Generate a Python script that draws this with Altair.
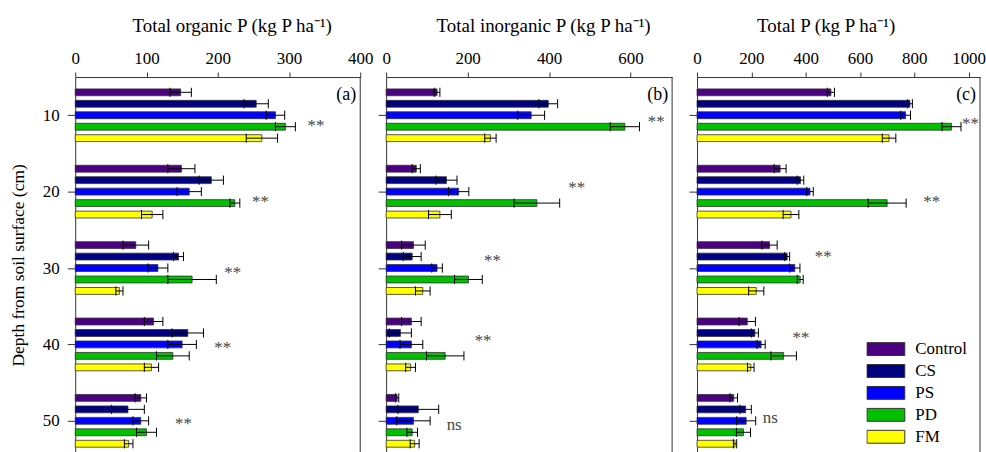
import altair as alt
import pandas as pd

# ---------------- data ----------------
treatments = ["Control", "CS", "PS", "PD", "FM"]
colors = ["#4B0082", "#000080", "#0000FF", "#00C000", "#FFFF00"]
depths = [10, 20, 30, 40, 50]

# rows = depth (10..50), columns = treatments
organic_mean = [
    [148, 254, 281, 295, 262],
    [149, 191, 160, 224, 108],
    [85, 145, 116, 164, 62],
    [110, 158, 150, 137, 107],
    [92, 74, 92, 100, 75],
]
organic_err = [
    [15, 17, 13, 14, 22],
    [19, 17, 17, 7, 15],
    [18, 7, 14, 34, 5],
    [13, 22, 20, 23, 10],
    [8, 23, 11, 14, 6],
]
inorganic_mean = [
    [125, 398, 356, 586, 256],
    [74, 148, 178, 370, 132],
    [67, 64, 125, 202, 90],
    [62, 35, 62, 145, 60],
    [27, 79, 67, 64, 70],
]
inorganic_err = [
    [7, 23, 33, 36, 14],
    [10, 26, 25, 56, 28],
    [29, 22, 13, 34, 18],
    [24, 27, 28, 46, 12],
    [4, 50, 41, 13, 11],
]
total_mean = [
    [493, 784, 768, 937, 707],
    [306, 381, 416, 700, 346],
    [267, 332, 360, 380, 218],
    [185, 213, 236, 319, 198],
    [135, 179, 181, 171, 140],
]
total_err = [
    [13, 9, 18, 35, 25],
    [22, 12, 12, 70, 29],
    [28, 9, 19, 11, 28],
    [30, 13, 15, 47, 12],
    [14, 21, 35, 26, 6],
]

organic_sig = ["**", "**", "**", "**", "**"]
inorganic_sig = ["**", "**", "**", "**", "ns"]
total_sig = ["**", "**", "**", "**", "ns"]
# annotation anchor positions (data units)
organic_sig_x = [338, 260, 221, 207, 152]
organic_sig_y = [11.4, 21.3, 30.6, 40.5, 50.4]
inorganic_sig_x = [663, 468, 261, 238, 167]
inorganic_sig_y = [10.9, 19.5, 29.1, 39.6, 50.6]
total_sig_x = [1007, 864, 465, 383, 270]
total_sig_y = [11.1, 21.4, 28.6, 39.1, 49.6]

# ---------------- layout constants ----------------
FONT = "Liberation Serif, Times New Roman, serif"
group_offsets = [-3.0, -1.5, 0.0, 1.5, 3.0]   # cm, bar position inside a depth group
BAR_HALF = 0.45
CAP_HALF = 0.6
PX_PER_CM = 7.667
HEIGHT = 377
Y_MIN = 5
Y_MAX = Y_MIN + HEIGHT / PX_PER_CM


def make_table(means, errs):
    rows = []
    for di, d in enumerate(depths):
        for ti, t in enumerate(treatments):
            m = means[di][ti]
            e = errs[di][ti]
            yc = d + group_offsets[ti]
            rows.append(dict(depth=d, treatment=t, mean=m, err=e, zero=0,
                             lo=m - e, hi=m + e, yc=yc,
                             y1=yc - BAR_HALF, y2=yc + BAR_HALF,
                             c1=yc - CAP_HALF, c2=yc + CAP_HALF))
    return pd.DataFrame(rows)


def panel(means, errs, sig, sig_x, sig_y, title, xmax, xticks, tag, width,
          title_shift, show_y, show_legend):
    d = make_table(means, errs)
    xs = alt.Scale(domain=[0, xmax], nice=False, zero=False)
    ys = alt.Scale(domain=[Y_MIN, Y_MAX], reverse=True, nice=False, zero=False)
    xaxis = alt.Axis(orient="top", title=title, values=xticks, grid=False,
                     format="d", labelFlush=False, labelOverlap=False,
                     tickSize=5, labelPadding=5, titlePadding=13.5,
                     labelFontSize=17, titleFontSize=19,
                     titleX=width / 2 + title_shift)
    yaxis = alt.Axis(values=depths, grid=False, tickSize=8, labels=show_y,
                     labelPadding=8, titlePadding=15, labelFontSize=17,
                     titleFontSize=17.5, format="d",
                     title="Depth from soil surface (cm)" if show_y else None)

    def X(field):
        return alt.X(field, scale=xs, axis=xaxis)

    def Y(field):
        return alt.Y(field, scale=ys, axis=yaxis)

    if show_legend:
        legend = alt.Legend(title=None, orient="none", legendX=170, legendY=264,
                            symbolType="M-1,-0.34H1V0.34H-1Z", symbolSize=1444,
                            symbolStrokeColor="#333", symbolStrokeWidth=1,
                            symbolOpacity=1, clipHeight=18, rowPadding=4,
                            labelOffset=10, labelFont=FONT, labelFontSize=17,
                            labelColor="black", padding=0)
    else:
        legend = None
    color = alt.Color("treatment:N",
                      scale=alt.Scale(domain=treatments, range=colors),
                      legend=legend)
    base = alt.Chart(d)
    bars = base.mark_rect(stroke="#333", strokeWidth=0.8).encode(
        x=X("zero:Q"), x2="mean:Q", y=Y("y1:Q"), y2="y2:Q", color=color)
    err_line = base.mark_rule(color="black", strokeWidth=1).encode(
        x=X("lo:Q"), x2="hi:Q", y=Y("yc:Q"))
    cap_lo = base.mark_rule(color="black", strokeWidth=1).encode(
        x=X("lo:Q"), y=Y("c1:Q"), y2="c2:Q")
    cap_hi = base.mark_rule(color="black", strokeWidth=1).encode(
        x=X("hi:Q"), y=Y("c1:Q"), y2="c2:Q")
    sdf = pd.DataFrame({"x": sig_x, "y": sig_y, "t": sig})
    sig_text = alt.Chart(sdf).mark_text(font=FONT, fontSize=17, color="#444",
                                        baseline="middle").encode(
        x=X("x:Q"), y=Y("y:Q"), text="t:N")
    edge = alt.Chart(pd.DataFrame({"edge": [xmax]})).mark_rule(
        color="#333", strokeWidth=1).encode(x=X("edge:Q"))
    tag_df = pd.DataFrame({"x": [xmax], "y": [7.3], "t": [tag]})
    tag_text = alt.Chart(tag_df).mark_text(font=FONT, fontSize=18, color="black",
                                           align="right", dx=-4,
                                           baseline="middle").encode(
        x=X("x:Q"), y=Y("y:Q"), text="t:N")
    return alt.layer(bars, err_line, cap_lo, cap_hi, sig_text, edge, tag_text
                     ).properties(width=width, height=HEIGHT)


pa = panel(organic_mean, organic_err, organic_sig, organic_sig_x, organic_sig_y,
           "Total organic P (kg P ha\u207b\u00b9)", 400, [0, 100, 200, 300, 400],
           "(a)", 286, 14, True, False)
pb = panel(inorganic_mean, inorganic_err, inorganic_sig, inorganic_sig_x,
           inorganic_sig_y, "Total inorganic P (kg P ha\u207b\u00b9)", 702,
           [0, 200, 400, 600], "(b)", 287, 14, False, False)
pc = panel(total_mean, total_err, total_sig, total_sig_x, total_sig_y,
           "Total P (kg P ha\u207b\u00b9)", 1042, [0, 200, 400, 600, 800, 1000],
           "(c)", 284, -13, False, True)

inner = alt.hconcat(pb, pc, spacing=15).resolve_scale(color="independent").resolve_legend(color="independent")
chart = alt.hconcat(pa, inner, spacing=4).resolve_scale(color="independent").resolve_legend(color="independent").properties(
    padding={"left": 9.5, "top": 15.5, "right": 0, "bottom": 0}
).configure_view(stroke=None).configure_axis(
    labelFont=FONT, titleFont=FONT, titleFontWeight="normal",
    labelColor="black", titleColor="black", domainColor="#333",
    tickColor="#333", domainWidth=1, tickWidth=1
)

chart.save("out.html", embed_options={"renderer": "svg", "actions": False})
